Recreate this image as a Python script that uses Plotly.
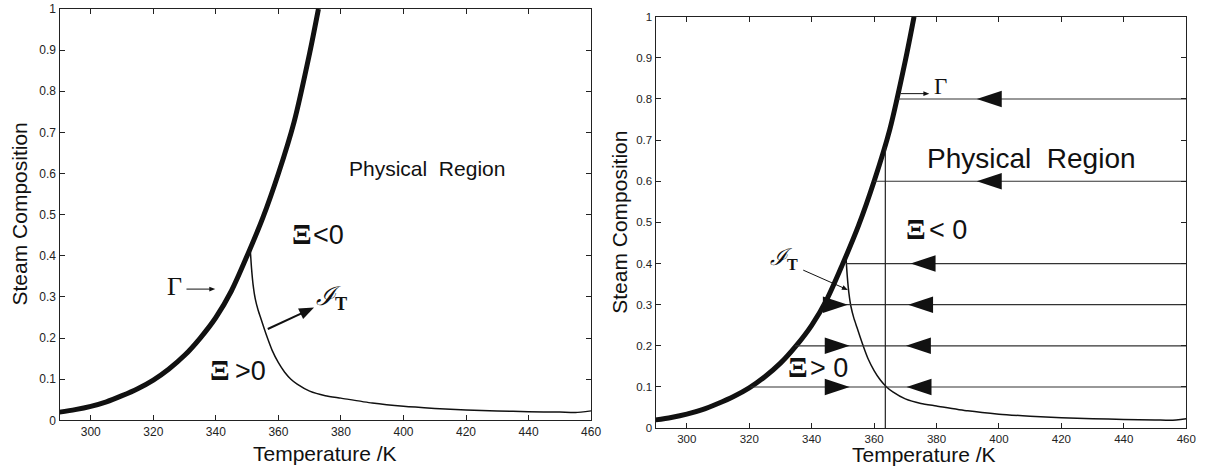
import math
import plotly.graph_objects as go

# ---------------- data ----------------
gamma_T = [290, 295, 300, 305, 310, 315, 320, 325, 330, 335, 340, 345, 350, 355, 360, 365, 370, 372.8]
gamma_y = [0.020, 0.026, 0.034, 0.045, 0.060, 0.077, 0.098, 0.125, 0.158, 0.200, 0.250, 0.315,
           0.400, 0.492, 0.600, 0.725, 0.893, 1.0]

it_T = [351.0, 351.4, 351.9, 352.6, 353.5, 354.5, 355.5, 356.5, 358.0, 360.0, 362.0, 364.0, 366.0,
        370.0, 375.0, 380.0, 390.0, 400.0, 410.0, 420.0, 430.0, 440.0, 450.0, 455.0, 460.0]
it_y = [0.415, 0.370, 0.330, 0.295, 0.268, 0.245, 0.222, 0.200, 0.170, 0.140, 0.117, 0.100, 0.088,
        0.071, 0.060, 0.054, 0.042, 0.034, 0.029, 0.025, 0.023, 0.021, 0.020, 0.019, 0.023]

# right panel: horizontal trajectories
h_levels = [0.1, 0.2, 0.3, 0.4, 0.6, 0.8]
h_start = [320.4, 334.7, 343.5, 351.0, 360.0, 367.5]
h_end = [460, 460, 460, 460, 460, 460]
left_arrow_tip = [370.4, 370.2, 370.9, 371.7, 392.9, 392.9]
right_arrow_levels = [0.1, 0.2, 0.3]
right_arrow_tip = [352.2, 352.2, 351.6]

# vertical line
v_T = [363.6, 363.6]
v_y = [0.0, 0.683]

x_ticks = [300, 320, 340, 360, 380, 400, 420, 440, 460]
y_ticks = [0, 0.1, 0.2, 0.3, 0.4, 0.5, 0.6, 0.7, 0.8, 0.9, 1]
y_tick_text = ["0", "0.1", "0.2", "0.3", "0.4", "0.5", "0.6", "0.7", "0.8", "0.9", "1"]

# ---------------- figure ----------------
W, H = 1223, 475
SANS = "Liberation Sans, Arial, Helvetica, sans-serif"
SERIF = "Liberation Serif, Times New Roman, serif"
INK = "#111111"

L_x0, L_x1, L_yt, L_yb = 60, 596, 3, 426
R_x0, R_x1, R_yt, R_yb = 661, 1196, 11, 434
XR = (290, 460)
YR = (0, 1)

fig = go.Figure()

for xa, ya in (("x", "y"), ("x2", "y2")):
    fig.add_trace(go.Scatter(x=gamma_T, y=gamma_y, mode="lines", xaxis=xa, yaxis=ya,
                             line=dict(color=INK, width=5, shape="spline", smoothing=0.8),
                             showlegend=False, hoverinfo="skip"))
    fig.add_trace(go.Scatter(x=it_T, y=it_y, mode="lines", xaxis=xa, yaxis=ya,
                             line=dict(color=INK, width=1.5, shape="spline", smoothing=0.6),
                             showlegend=False, hoverinfo="skip"))

# horizontal lines in right panel
for lev, xs, xe in zip(h_levels, h_start, h_end):
    fig.add_trace(go.Scatter(x=[xs, xe], y=[lev, lev], mode="lines", xaxis="x2", yaxis="y2",
                             line=dict(color="#333333", width=1.2),
                             showlegend=False, hoverinfo="skip"))
fig.add_trace(go.Scatter(x=v_T, y=v_y, mode="lines", xaxis="x2", yaxis="y2",
                         line=dict(color="#222222", width=1.2),
                         showlegend=False, hoverinfo="skip"))

# arrowheads (filled triangles)
tri_len = 8.0     # in K
tri_half = 0.02   # in composition
shapes = []
for lev, tip in zip(h_levels, left_arrow_tip):
    shapes.append(dict(type="path", xref="x2", yref="y2",
                       path=f"M{tip},{lev} L{tip + tri_len},{lev + tri_half} L{tip + tri_len},{lev - tri_half} Z",
                       fillcolor=INK, line=dict(width=0)))
for lev, tip in zip(right_arrow_levels, right_arrow_tip):
    shapes.append(dict(type="path", xref="x2", yref="y2",
                       path=f"M{tip},{lev} L{tip - tri_len},{lev + tri_half} L{tip - tri_len},{lev - tri_half} Z",
                       fillcolor=INK, line=dict(width=0)))


def add_arrow(xa, ya, x0, y0, x1, y1, width, head_len, head_half, px_per_x, px_per_y):
    """Straight arrow from (x0,y0) to (x1,y1) with a filled head, sized in pixels."""
    dxp = (x1 - x0) * px_per_x
    dyp = (y1 - y0) * px_per_y
    d = math.hypot(dxp, dyp)
    ux, uy = dxp / d, dyp / d
    bx, by = -uy, ux
    base_x = x1 - ux * head_len / px_per_x
    base_y = y1 - uy * head_len / px_per_y
    p1 = (base_x + bx * head_half / px_per_x, base_y + by * head_half / px_per_y)
    p2 = (base_x - bx * head_half / px_per_x, base_y - by * head_half / px_per_y)
    fig.add_trace(go.Scatter(x=[x0, base_x + ux * 1 / px_per_x], y=[y0, base_y + uy * 1 / px_per_y],
                             mode="lines", xaxis=xa, yaxis=ya,
                             line=dict(color=INK, width=width), showlegend=False, hoverinfo="skip"))
    shapes.append(dict(type="path", xref=xa, yref=ya,
                       path=f"M{x1},{y1} L{p1[0]},{p1[1]} L{p2[0]},{p2[1]} Z",
                       fillcolor=INK, line=dict(width=0)))


sxL = (L_x1 - L_x0) / (XR[1] - XR[0])
syL = (L_yb - L_yt) / (YR[1] - YR[0])
sxR = (R_x1 - R_x0) / (XR[1] - XR[0])
syR = (R_yb - R_yt) / (YR[1] - YR[0])

add_arrow("x", "y", 330.6, 0.319, 339.8, 0.319, 1, 6, 2.5, sxL, syL)
add_arrow("x", "y", 356.6, 0.222, 371.4, 0.274, 2, 15, 6, sxL, syL)
add_arrow("x2", "y2", 368.5, 0.813, 377.7, 0.813, 1, 6, 2.5, sxR, syR)
add_arrow("x2", "y2", 337.3, 0.384, 351.6, 0.336, 1, 6, 2.5, sxR, syR)

axis_common = dict(showline=True, linecolor="#222222", linewidth=1.2, mirror="ticks",
                   ticks="inside", ticklen=5, tickcolor="#222222", showgrid=False, zeroline=False,
                   tickfont=dict(family=SANS, size=12, color="#222222"))

fig.update_layout(
    width=W, height=H, margin=dict(l=0, r=0, t=0, b=0),
    paper_bgcolor="white", plot_bgcolor="white", showlegend=False,
    xaxis=dict(domain=[L_x0 / W, L_x1 / W], range=list(XR), tickvals=x_ticks, anchor="y", **axis_common),
    yaxis=dict(domain=[1 - L_yb / H, 1 - L_yt / H], range=list(YR), tickvals=y_ticks, ticktext=y_tick_text,
               anchor="x", **axis_common),
    xaxis2=dict(domain=[R_x0 / W, R_x1 / W], range=list(XR), tickvals=x_ticks, anchor="y2", **axis_common),
    yaxis2=dict(domain=[1 - R_yb / H, 1 - R_yt / H], range=list(YR), tickvals=y_ticks, ticktext=y_tick_text,
                anchor="x2", **axis_common),
    shapes=shapes,
)
fig.update_xaxes(tickfont=dict(size=11.5), selector=dict(anchor="y2"))
fig.update_yaxes(tickfont=dict(size=11.5), selector=dict(anchor="x2"))

ann = []
# axis titles
for cx, cy in ((328, 460), (932, 461)):
    ann.append(dict(xref="paper", yref="paper", x=cx / W, y=1 - cy / H, text="Temperature /K",
                    showarrow=False, xanchor="center", yanchor="middle",
                    font=dict(family=SANS, size=21, color=INK)))
for cx, cy in ((19.5, 214), (625, 222)):
    ann.append(dict(xref="paper", yref="paper", x=cx / W, y=1 - cy / H, text="Steam Composition",
                    showarrow=False, xanchor="center", yanchor="middle", textangle=-90,
                    font=dict(family=SANS, size=21, color=INK)))

PR = "Physical\u00a0 Region"


def txt(xr, yr, x, y, text, size, family=SANS, bold=False):
    return dict(xref=xr, yref=yr, x=x, y=y, text=text, showarrow=False,
                xanchor="center", yanchor="middle",
                font=dict(family=family, size=size, color=INK, weight="bold" if bold else "normal"))


IT = "<i>ℐ</i><sub><b>T</b></sub>"

# left panel labels
ann += [
    txt("x", "y", 407.5, 0.612, PR, 21),
    txt("x", "y", 367.4, 0.453, "Ξ", 29, SERIF, True),
    txt("x", "y", 376.0, 0.451, "&lt;0", 27),
    txt("x", "y", 341.2, 0.122, "Ξ", 29, SERIF, True),
    txt("x", "y", 351.1, 0.120, "&gt;0", 27),
    txt("x", "y", 326.8, 0.326, "Γ", 26, SERIF),
    txt("x", "y", 377.0, 0.297, IT, 26, SERIF),
]
# right panel labels
ann += [
    txt("x2", "y2", 410.5, 0.655, PR, 28),
    txt("x2", "y2", 373.4, 0.484, "Ξ", 29, SERIF, True),
    txt("x2", "y2", 383.6, 0.482, "&lt; 0", 27),
    txt("x2", "y2", 335.6, 0.149, "Ξ", 29, SERIF, True),
    txt("x2", "y2", 345.5, 0.147, "&gt; 0", 27),
    txt("x2", "y2", 381.2, 0.830, "Γ", 23, SERIF),
    txt("x2", "y2", 331.0, 0.411, IT, 23, SERIF),
]
fig.update_layout(annotations=ann)

fig.write_html("out.html")
